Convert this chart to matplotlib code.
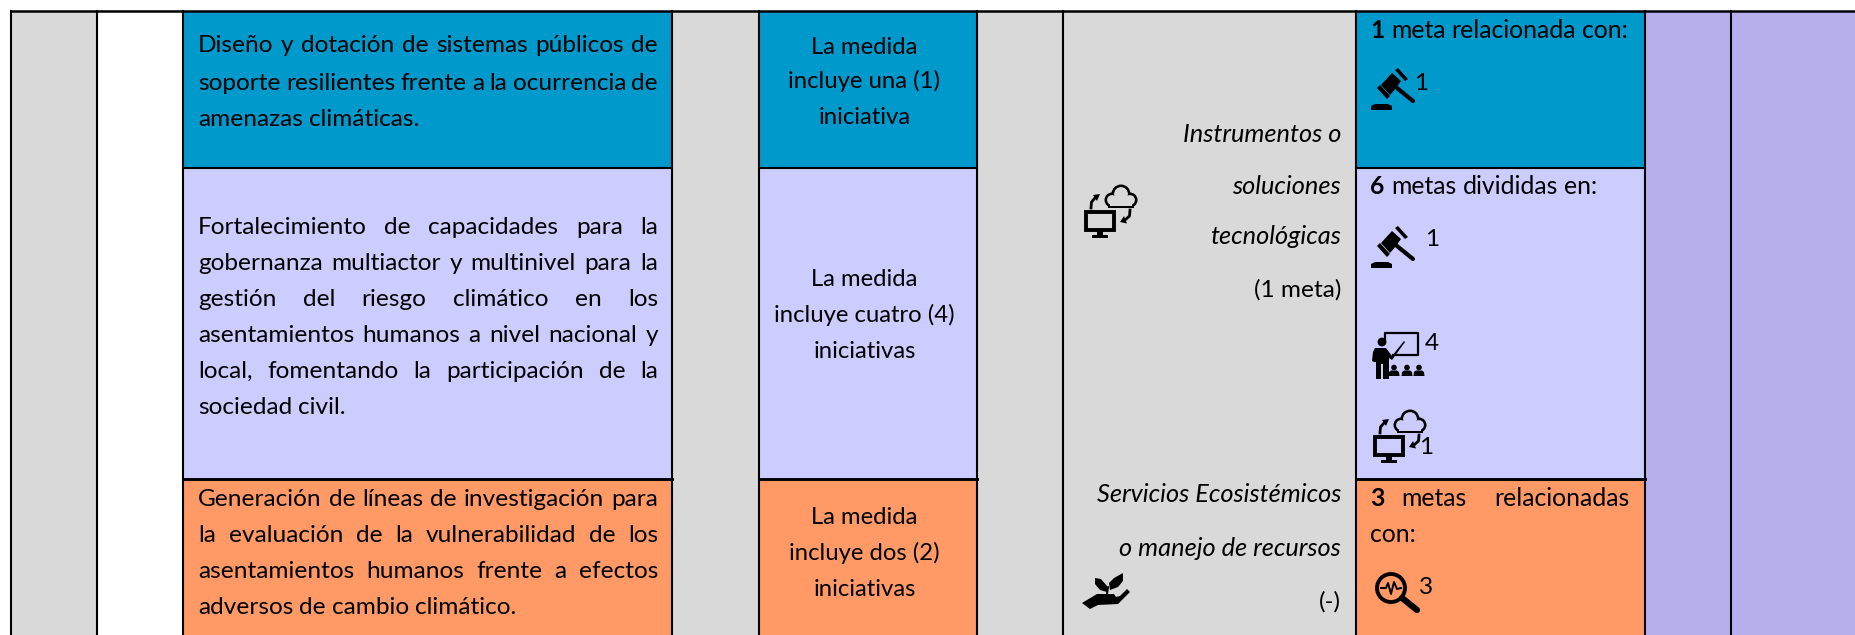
import matplotlib
matplotlib.use("Agg")
import matplotlib.pyplot as plt
from matplotlib.patches import Rectangle, Polygon, Circle

W, H = 1856, 635
FONT = "Lato"
FS = 17.6
BASE = 8.5  # baseline offset from the line centre

BLUE = "#0099CC"
LAV = "#CCCCFF"
ORANGE = "#FF9966"
GRAY = "#D9D9D9"
PURPLE = "#B7B0ED"

# column edges and row edges, in image pixels
col_edges = [11, 97, 183, 672, 759, 977, 1063, 1356, 1645, 1731, W]
row_edges = [11, 168, 479, H]
row_colors = [BLUE, LAV, ORANGE]

measure_lines = [
    ["Diseño y dotación de sistemas públicos de",
     "soporte resilientes frente a la ocurrencia de",
     "amenazas climáticas."],
    ["Fortalecimiento de capacidades para la",
     "gobernanza multiactor y multinivel para la",
     "gestión del riesgo climático en los",
     "asentamientos humanos a nivel nacional y",
     "local, fomentando la participación de la",
     "sociedad civil."],
    ["Generación de líneas de investigación para",
     "la evaluación de la vulnerabilidad de los",
     "asentamientos humanos frente a efectos",
     "adversos de cambio climático."],
]
measure_y = [[44, 81, 117], [226, 261, 297, 333, 369, 405], [498, 534, 570, 606]]
measure_last = [[True, True, False], [True, True, True, True, True, False],
                [True, True, True, False]]

count_lines = [
    ["La medida", "incluye una (1)", "iniciativa"],
    ["La medida", "incluye cuatro (4)", "iniciativas"],
    ["La medida", "incluye dos (2)", "iniciativas"],
]
count_y = [[45, 80, 116], [278, 314, 350], [516, 552, 588]]

type_lines = [("Instrumentos o", 133, True), ("soluciones", 185, True),
              ("tecnológicas", 236, True), ("(1 meta)", 288, False),
              ("Servicios Ecosistémicos", 494, True),
              ("o manejo de recursos", 547, True), ("(-)", 600, False)]

meta_counts = ["1", "6", "3"]
meta_rest = ["meta relacionada con:", "metas divididas en:", "metas relacionadas"]
meta_y = [30, 186, 498]

icon_numbers = [("1", 1414, 81), ("1", 1425, 238), ("4", 1425, 342),
                ("1", 1419, 445), ("3", 1419, 586)]

fig = plt.figure(figsize=(W / 100, H / 100), dpi=100)
ax = fig.add_axes([0, 0, 1, 1])
ax.set_xlim(0, W)
ax.set_ylim(H, 0)
ax.axis("off")
rend = fig.canvas.get_renderer()


def fill(x0, x1, y0, y1, color, z=1):
    ax.add_patch(Rectangle((x0, y0), x1 - x0, y1 - y0, fc=color, ec="none", zorder=z))


def txt(x, y, s, **kw):
    kw.setdefault("fontsize", FS)
    kw.setdefault("family", FONT)
    return ax.text(x, y + BASE, s, va="baseline", color="black", zorder=5, **kw)


def justified(x0, x1, y, line, stretch=True, fs=FS):
    words = line.split(" ")
    items = [txt(x0, y, w, fontsize=fs) for w in words]
    widths = [t.get_window_extent(rend).width for t in items]
    gap = (x1 - x0 - sum(widths)) / (len(words) - 1) if stretch else 6
    x = x0
    for t, w in zip(items, widths):
        t.set_x(x)
        x += w + gap


def poly(x, y, pts, s=1.0, color="black"):
    ax.add_patch(Polygon([(x + a * s, y + b * s) for a, b in pts], closed=True,
                         fc=color, ec="none", zorder=4))


def seg(x, y, p, q, lw=2.0):
    ax.plot([x + p[0], x + q[0]], [y + p[1], y + q[1]], color="black", lw=lw,
            solid_capstyle="round", zorder=4)


def gavel(x, y):
    poly(x, y, [(10, 17), (21, 5), (30, 13), (25, 20), (19, 27)])
    poly(x, y, [(24, 2), (27, 0), (37, 11), (34, 13)])
    poly(x, y, [(6, 20), (9, 17), (19, 28), (16, 31)])
    seg(x, y, (26, 20), (42, 33), 3.0)
    poly(x, y, [(0, 42), (0, 38), (4, 36), (17, 36), (21, 38), (21, 42)])


def cloud_pc(x, y, bg):
    lobes = [(27, 15, 7.5), (36, 9, 9.5), (45, 15, 7.5)]
    for a, b, r in lobes:
        ax.add_patch(Circle((x + a, y + b), r, fc="black", ec="none", zorder=3))
    fill(x + 23, x + 49, y + 15, y + 23, "black", 3)
    for a, b, r in lobes:
        ax.add_patch(Circle((x + a, y + b), r - 2.6, fc=bg, ec="none", zorder=3.5))
    fill(x + 25, x + 47, y + 13, y + 20.5, bg, 3.5)
    ax.add_patch(Rectangle((x + 1.5, y + 26.5), 28, 18, fc=bg, ec="black", lw=2.8, zorder=4))
    poly(x, y, [(12, 46), (18, 46), (18, 50), (23, 50), (23, 53), (7, 53), (7, 50), (12, 50)])
    # the two turning arrows
    ax.plot([x + 6, x + 6.5, x + 10], [y + 23, y + 17, y + 13], color="black", lw=2.0, zorder=4)
    poly(x, y, [(8, 10), (15, 9), (12, 16)])
    ax.plot([x + 45, x + 44.5, x + 40], [y + 25, y + 31, y + 35], color="black", lw=2.0, zorder=4)
    poly(x, y, [(42, 38.5), (35, 37), (39, 31)])


def teacher(x, y):
    ax.plot([x + 13, x + 13, x + 46, x + 46, x + 21], [y + 8, y + 1, y + 1, y + 23, y + 23],
            color="black", lw=1.6, zorder=4)
    ax.add_patch(Circle((x + 10, y + 10), 4.4, fc="black", ec="none", zorder=4))
    poly(x, y, [(3, 16), (14, 16), (20, 24), (32, 9), (33, 10), (20, 28), (17, 26), (17, 47),
                (11, 47), (11, 32), (9, 32), (9, 47), (4, 47), (4, 30), (2, 30), (0, 29), (1, 20)])
    for a in [22, 35, 47]:
        ax.add_patch(Circle((x + a, y + 35.5), 2.8, fc="black", ec="none", zorder=4))
        poly(x, y, [(a - 5.5, 44), (a - 5, 40), (a - 3, 38.5), (a + 3, 38.5), (a + 5, 40), (a + 5.5, 44)])


def magnifier(x, y):
    ax.add_patch(Circle((x + 17, y + 15), 14, fc="none", ec="black", lw=2.8, zorder=4))
    seg(x, y, (28, 25), (43, 37), 4.5)
    xs = [7, 12, 14, 17, 20, 23, 27]
    ys = [15, 15, 10, 21, 9, 16, 15]
    ax.plot([x + a for a in xs], [y + b for b in ys], color="black", lw=1.4, zorder=4)


def plant_hand(x, y):
    poly(x, y, [(0, 30), (15, 21), (32, 21), (34, 24), (26, 26), (38, 23), (45, 16), (48, 19),
                (36, 31), (16, 32), (8, 36)])
    poly(x, y, [(13, 5), (19, 6), (25, 13), (25, 19), (18, 17), (13, 11)])
    poly(x, y, [(41, 0), (41, 8), (36, 14), (28, 17), (27, 10), (32, 5)])
    seg(x, y, (25, 21), (26, 14), 1.5)


# backgrounds
for x0, x1, c in [(col_edges[0], col_edges[1], GRAY), (col_edges[1], col_edges[2], "white"),
                  (col_edges[3], col_edges[4], GRAY), (col_edges[5], col_edges[7], GRAY),
                  (col_edges[8], W, PURPLE)]:
    fill(x0, x1, row_edges[0], H, c)
for i, c in enumerate(row_colors):
    for a, b in [(2, 3), (4, 5), (7, 8)]:
        fill(col_edges[a], col_edges[b], row_edges[i], row_edges[i + 1], c)

# grid lines
LW = 1.5
ax.plot([col_edges[0], W], [row_edges[0]] * 2, color="black", lw=LW + 0.3, zorder=6)
for i in range(10):
    ax.plot([col_edges[i]] * 2, [row_edges[0], H], color="black", lw=LW, zorder=6)
for y, lw in [(row_edges[1], LW), (row_edges[2], LW + 0.6)]:
    for a, b in [(2, 3), (4, 5), (7, 8)]:
        ax.plot([col_edges[a], col_edges[b]], [y, y], color="black", lw=lw, zorder=6)

# text columns
for lines, ys, flags in zip(measure_lines, measure_y, measure_last):
    for line, y, f in zip(lines, ys, flags):
        justified(198, 658, y, line, f)

for lines, ys in zip(count_lines, count_y):
    for line, y in zip(lines, ys):
        txt(864.5, y, line, ha="center", fontsize=17.2)

for line, y, ital in type_lines:
    if ital:
        txt(1341, y, line, ha="right", style="italic", fontsize=18.3)
    else:
        txt(1341, y, line, ha="right")

for n, rest, y in zip(meta_counts, meta_rest, meta_y):
    t = txt(1370, y, n, fontweight="bold", fontsize=17.8)
    w = t.get_window_extent(rend).width
    if rest == "metas relacionadas":
        justified(1370 + w + 17, 1630, y, rest, True, 17.8)
    else:
        justified(1370 + w + 7, 1630, y, rest, False, 17.8)
txt(1370, 534, "con:", fontsize=17.8)

for s, x, y in icon_numbers:
    txt(x, y, s)

# icons
gavel(1371, 68)
gavel(1371, 226)
teacher(1372, 332)
cloud_pc(1374, 410, LAV)
magnifier(1374, 573)
cloud_pc(1085, 185, GRAY)
plant_hand(1082, 573)

fig.savefig("out.png", dpi=100)
